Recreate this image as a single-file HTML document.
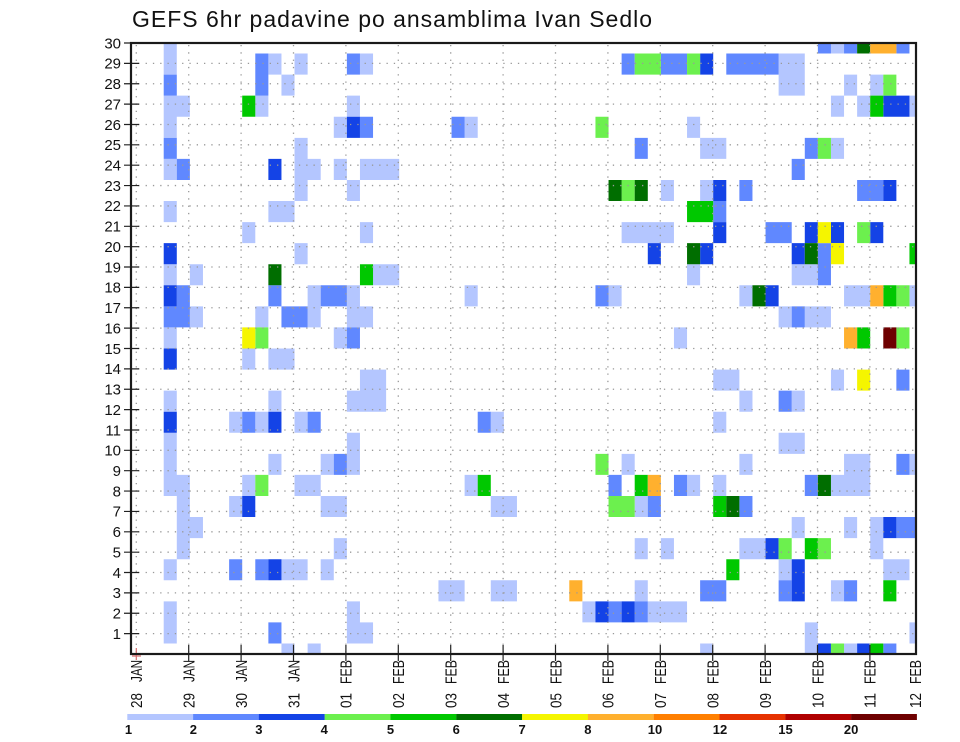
<!DOCTYPE html>
<html><head><meta charset="utf-8"><style>
html,body{margin:0;padding:0;background:#fff;}
svg{display:block;}
text{font-family:"Liberation Sans",Arial,sans-serif;fill:#111;}
</style></head><body>
<svg width="960" height="742" viewBox="0 0 960 742" xmlns="http://www.w3.org/2000/svg">
<defs><clipPath id="c"><rect x="131" y="43" width="785" height="611"/></clipPath></defs>
<rect width="960" height="742" fill="#fff"/>
<text x="132" y="27" font-size="23" textLength="520" lengthAdjust="spacing">GEFS 6hr padavine po ansamblima Ivan Sedlo</text>
<g clip-path="url(#c)"><g transform="translate(124.46 32.47) scale(13.0833 21.069)">
<path fill="#b4c6ff" d="M3 0h1v1h-1zM54 0h1v1h-1zM3 1h1v1h-1zM11 1h1v1h-1zM13 1h1v1h-1zM18 1h1v1h-1zM50 1h2v1h-2zM12 2h1v1h-1zM50 2h2v1h-2zM55 2h1v1h-1zM57 2h1v1h-1zM3 3h2v1h-2zM10 3h1v1h-1zM17 3h1v1h-1zM54 3h1v1h-1zM56 3h1v1h-1zM60 3h1v1h-1zM3 4h1v1h-1zM16 4h1v1h-1zM26 4h1v1h-1zM43 4h1v1h-1zM13 5h1v1h-1zM44 5h2v1h-2zM54 5h1v1h-1zM3 6h1v1h-1zM13 6h2v1h-2zM16 6h1v1h-1zM18 6h3v1h-3zM13 7h1v1h-1zM17 7h1v1h-1zM41 7h1v1h-1zM44 7h1v1h-1zM3 8h1v1h-1zM11 8h2v1h-2zM9 9h1v1h-1zM18 9h1v1h-1zM38 9h4v1h-4zM13 10h1v1h-1zM3 11h1v1h-1zM5 11h1v1h-1zM19 11h2v1h-2zM43 11h1v1h-1zM51 11h2v1h-2zM14 12h1v1h-1zM17 12h1v1h-1zM26 12h1v1h-1zM37 12h1v1h-1zM47 12h1v1h-1zM55 12h2v1h-2zM60 12h1v1h-1zM5 13h1v1h-1zM10 13h1v1h-1zM14 13h1v1h-1zM17 13h2v1h-2zM50 13h1v1h-1zM52 13h2v1h-2zM3 14h1v1h-1zM16 14h1v1h-1zM42 14h1v1h-1zM9 15h1v1h-1zM11 15h2v1h-2zM18 16h2v1h-2zM45 16h2v1h-2zM54 16h1v1h-1zM3 17h1v1h-1zM11 17h1v1h-1zM17 17h3v1h-3zM47 17h1v1h-1zM51 17h1v1h-1zM8 18h1v1h-1zM10 18h1v1h-1zM13 18h1v1h-1zM28 18h1v1h-1zM45 18h1v1h-1zM3 19h1v1h-1zM17 19h1v1h-1zM50 19h2v1h-2zM3 20h1v1h-1zM11 20h1v1h-1zM15 20h1v1h-1zM17 20h1v1h-1zM38 20h1v1h-1zM47 20h1v1h-1zM55 20h2v1h-2zM60 20h1v1h-1zM3 21h2v1h-2zM9 21h1v1h-1zM13 21h2v1h-2zM26 21h1v1h-1zM43 21h1v1h-1zM45 21h1v1h-1zM54 21h3v1h-3zM4 22h1v1h-1zM8 22h1v1h-1zM15 22h2v1h-2zM28 22h2v1h-2zM39 22h1v1h-1zM4 23h2v1h-2zM51 23h1v1h-1zM55 23h1v1h-1zM57 23h1v1h-1zM4 24h1v1h-1zM16 24h1v1h-1zM39 24h1v1h-1zM41 24h1v1h-1zM47 24h2v1h-2zM57 24h1v1h-1zM3 25h1v1h-1zM12 25h2v1h-2zM15 25h1v1h-1zM50 25h1v1h-1zM58 25h2v1h-2zM24 26h2v1h-2zM28 26h2v1h-2zM39 26h1v1h-1zM54 26h1v1h-1zM3 27h1v1h-1zM17 27h1v1h-1zM35 27h1v1h-1zM40 27h3v1h-3zM3 28h1v1h-1zM17 28h2v1h-2zM52 28h1v1h-1zM60 28h1v1h-1zM12 29h1v1h-1zM14 29h1v1h-1zM44 29h1v1h-1zM52 29h1v1h-1zM55 29h1v1h-1z"/>
<path fill="#6088ff" d="M53 0h1v1h-1zM55 0h1v1h-1zM59 0h1v1h-1zM10 1h1v1h-1zM17 1h1v1h-1zM38 1h1v1h-1zM41 1h2v1h-2zM46 1h4v1h-4zM3 2h1v1h-1zM10 2h1v1h-1zM18 4h1v1h-1zM25 4h1v1h-1zM3 5h1v1h-1zM39 5h1v1h-1zM52 5h1v1h-1zM4 6h1v1h-1zM51 6h1v1h-1zM47 7h1v1h-1zM56 7h2v1h-2zM45 8h1v1h-1zM49 9h2v1h-2zM53 10h1v1h-1zM53 11h1v1h-1zM4 12h1v1h-1zM11 12h1v1h-1zM15 12h2v1h-2zM36 12h1v1h-1zM3 13h2v1h-2zM12 13h2v1h-2zM51 13h1v1h-1zM17 14h1v1h-1zM59 16h1v1h-1zM50 17h1v1h-1zM9 18h1v1h-1zM14 18h1v1h-1zM27 18h1v1h-1zM16 20h1v1h-1zM59 20h1v1h-1zM37 21h1v1h-1zM42 21h1v1h-1zM52 21h1v1h-1zM40 22h1v1h-1zM47 22h1v1h-1zM59 23h2v1h-2zM8 25h1v1h-1zM10 25h1v1h-1zM44 26h2v1h-2zM50 26h1v1h-1zM55 26h1v1h-1zM37 27h1v1h-1zM39 27h1v1h-1zM11 28h1v1h-1zM58 29h1v1h-1z"/>
<path fill="#1443e6" d="M44 1h1v1h-1zM58 3h2v1h-2zM17 4h1v1h-1zM11 6h1v1h-1zM45 7h1v1h-1zM58 7h1v1h-1zM45 9h1v1h-1zM52 9h1v1h-1zM54 9h1v1h-1zM57 9h1v1h-1zM3 10h1v1h-1zM40 10h1v1h-1zM44 10h1v1h-1zM51 10h1v1h-1zM3 12h1v1h-1zM49 12h1v1h-1zM3 15h1v1h-1zM3 18h1v1h-1zM11 18h1v1h-1zM9 22h1v1h-1zM58 23h1v1h-1zM49 24h1v1h-1zM11 25h1v1h-1zM51 25h1v1h-1zM51 26h1v1h-1zM36 27h1v1h-1zM38 27h1v1h-1zM53 29h1v1h-1zM56 29h1v1h-1z"/>
<path fill="#6cf04e" d="M39 1h2v1h-2zM43 1h1v1h-1zM58 2h1v1h-1zM36 4h1v1h-1zM53 5h1v1h-1zM38 7h1v1h-1zM56 9h1v1h-1zM59 12h1v1h-1zM10 14h1v1h-1zM59 14h1v1h-1zM36 20h1v1h-1zM10 21h1v1h-1zM37 22h2v1h-2zM50 24h1v1h-1zM53 24h1v1h-1zM54 29h1v1h-1z"/>
<path fill="#00c800" d="M9 3h1v1h-1zM57 3h1v1h-1zM43 8h2v1h-2zM60 10h1v1h-1zM18 11h1v1h-1zM58 12h1v1h-1zM56 14h1v1h-1zM27 21h1v1h-1zM39 21h1v1h-1zM45 22h1v1h-1zM52 24h1v1h-1zM46 25h1v1h-1zM58 26h1v1h-1zM57 29h1v1h-1z"/>
<path fill="#006e00" d="M56 0h1v1h-1zM37 7h1v1h-1zM39 7h1v1h-1zM43 10h1v1h-1zM52 10h1v1h-1zM11 11h1v1h-1zM48 12h1v1h-1zM53 21h1v1h-1zM46 22h1v1h-1z"/>
<path fill="#f5f500" d="M53 9h1v1h-1zM54 10h1v1h-1zM9 14h1v1h-1zM56 16h1v1h-1z"/>
<path fill="#ffb02e" d="M57 0h2v1h-2zM57 12h1v1h-1zM55 14h1v1h-1zM40 21h1v1h-1zM34 26h1v1h-1z"/>
<path fill="#6e0000" d="M58 14h1v1h-1z"/>
</g></g>
<g stroke="#999" stroke-width="1.3" stroke-dasharray="1.3 6" fill="none">
<path d="M131 633.63H916M131 613.27H916M131 592.9H916M131 572.53H916M131 552.17H916M131 531.8H916M131 511.43H916M131 491.07H916M131 470.7H916M131 450.33H916M131 429.97H916M131 409.6H916M131 389.23H916M131 368.87H916M131 348.5H916M131 328.13H916M131 307.77H916M131 287.4H916M131 267.03H916M131 246.67H916M131 226.3H916M131 205.93H916M131 185.57H916M131 165.2H916M131 144.83H916M131 124.47H916M131 104.1H916M131 83.73H916M131 63.37H916"/>
<path d="M136.3 45V654M188.7 45V654M241.1 45V654M293.5 45V654M345.9 45V654M398.3 45V654M450.7 45V654M503.1 45V654M555.5 45V654M607.9 45V654M660.3 45V654M712.7 45V654M765.1 45V654M817.5 45V654M869.9 45V654"/>
</g>
<g stroke="#222" stroke-width="1.2">
<path d="M124 633.63H139M124 613.27H139M124 592.9H139M124 572.53H139M124 552.17H139M124 531.8H139M124 511.43H139M124 491.07H139M124 470.7H139M124 450.33H139M124 429.97H139M124 409.6H139M124 389.23H139M124 368.87H139M124 348.5H139M124 328.13H139M124 307.77H139M124 287.4H139M124 267.03H139M124 246.67H139M124 226.3H139M124 205.93H139M124 185.57H139M124 165.2H139M124 144.83H139M124 124.47H139M124 104.1H139M124 83.73H139M124 63.37H139M124 43H139"/>
<path d="M188.7 645V661M241.1 645V661M293.5 645V661M345.9 645V661M398.3 645V661M450.7 645V661M503.1 645V661M555.5 645V661M607.9 645V661M660.3 645V661M712.7 645V661M765.1 645V661M817.5 645V661M869.9 645V661"/>
</g>
<path d="M136.3 648V660M132 656H141" stroke="#d87070" stroke-width="1.2"/>
<rect x="131" y="43" width="785" height="611" fill="none" stroke="#1a1a1a" stroke-width="2.2"/>
<g font-size="15" text-anchor="end">
<text x="121" y="638.9">1</text><text x="121" y="618.6">2</text><text x="121" y="598.2">3</text><text x="121" y="577.8">4</text><text x="121" y="557.5">5</text><text x="121" y="537.1">6</text><text x="121" y="516.7">7</text><text x="121" y="496.4">8</text><text x="121" y="476">9</text><text x="121" y="455.6">10</text><text x="121" y="435.3">11</text><text x="121" y="414.9">12</text><text x="121" y="394.5">13</text><text x="121" y="374.2">14</text><text x="121" y="353.8">15</text><text x="121" y="333.4">16</text><text x="121" y="313.1">17</text><text x="121" y="292.7">18</text><text x="121" y="272.3">19</text><text x="121" y="252">20</text><text x="121" y="231.6">21</text><text x="121" y="211.2">22</text><text x="121" y="190.9">23</text><text x="121" y="170.5">24</text><text x="121" y="150.1">25</text><text x="121" y="129.8">26</text><text x="121" y="109.4">27</text><text x="121" y="89">28</text><text x="121" y="68.7">29</text><text x="121" y="48.3">30</text>
</g>
<g font-size="16">
<text transform="translate(142.1 682) rotate(-90)" textLength="22" lengthAdjust="spacingAndGlyphs">JAN</text><text transform="translate(142.1 708) rotate(-90)" textLength="15" lengthAdjust="spacingAndGlyphs">28</text>
<text transform="translate(194.5 682) rotate(-90)" textLength="22" lengthAdjust="spacingAndGlyphs">JAN</text><text transform="translate(194.5 708) rotate(-90)" textLength="15" lengthAdjust="spacingAndGlyphs">29</text>
<text transform="translate(246.9 682) rotate(-90)" textLength="22" lengthAdjust="spacingAndGlyphs">JAN</text><text transform="translate(246.9 708) rotate(-90)" textLength="15" lengthAdjust="spacingAndGlyphs">30</text>
<text transform="translate(299.3 682) rotate(-90)" textLength="22" lengthAdjust="spacingAndGlyphs">JAN</text><text transform="translate(299.3 708) rotate(-90)" textLength="15" lengthAdjust="spacingAndGlyphs">31</text>
<text transform="translate(351.7 684) rotate(-90)" textLength="24" lengthAdjust="spacingAndGlyphs">FEB</text><text transform="translate(351.7 708) rotate(-90)" textLength="15" lengthAdjust="spacingAndGlyphs">01</text>
<text transform="translate(404.1 684) rotate(-90)" textLength="24" lengthAdjust="spacingAndGlyphs">FEB</text><text transform="translate(404.1 708) rotate(-90)" textLength="15" lengthAdjust="spacingAndGlyphs">02</text>
<text transform="translate(456.5 684) rotate(-90)" textLength="24" lengthAdjust="spacingAndGlyphs">FEB</text><text transform="translate(456.5 708) rotate(-90)" textLength="15" lengthAdjust="spacingAndGlyphs">03</text>
<text transform="translate(508.9 684) rotate(-90)" textLength="24" lengthAdjust="spacingAndGlyphs">FEB</text><text transform="translate(508.9 708) rotate(-90)" textLength="15" lengthAdjust="spacingAndGlyphs">04</text>
<text transform="translate(561.3 684) rotate(-90)" textLength="24" lengthAdjust="spacingAndGlyphs">FEB</text><text transform="translate(561.3 708) rotate(-90)" textLength="15" lengthAdjust="spacingAndGlyphs">05</text>
<text transform="translate(613.7 684) rotate(-90)" textLength="24" lengthAdjust="spacingAndGlyphs">FEB</text><text transform="translate(613.7 708) rotate(-90)" textLength="15" lengthAdjust="spacingAndGlyphs">06</text>
<text transform="translate(666.1 684) rotate(-90)" textLength="24" lengthAdjust="spacingAndGlyphs">FEB</text><text transform="translate(666.1 708) rotate(-90)" textLength="15" lengthAdjust="spacingAndGlyphs">07</text>
<text transform="translate(718.5 684) rotate(-90)" textLength="24" lengthAdjust="spacingAndGlyphs">FEB</text><text transform="translate(718.5 708) rotate(-90)" textLength="15" lengthAdjust="spacingAndGlyphs">08</text>
<text transform="translate(770.9 684) rotate(-90)" textLength="24" lengthAdjust="spacingAndGlyphs">FEB</text><text transform="translate(770.9 708) rotate(-90)" textLength="15" lengthAdjust="spacingAndGlyphs">09</text>
<text transform="translate(823.3 684) rotate(-90)" textLength="24" lengthAdjust="spacingAndGlyphs">FEB</text><text transform="translate(823.3 708) rotate(-90)" textLength="15" lengthAdjust="spacingAndGlyphs">10</text>
<text transform="translate(875.7 684) rotate(-90)" textLength="24" lengthAdjust="spacingAndGlyphs">FEB</text><text transform="translate(875.7 708) rotate(-90)" textLength="15" lengthAdjust="spacingAndGlyphs">11</text>
<text transform="translate(920.8 684) rotate(-90)" textLength="24" lengthAdjust="spacingAndGlyphs">FEB</text><text transform="translate(920.8 708) rotate(-90)" textLength="15" lengthAdjust="spacingAndGlyphs">12</text>
</g>
<g>
<rect x="127.3" y="714" width="65.9" height="6" fill="#b4c6ff"/>
<rect x="193.1" y="714" width="65.9" height="6" fill="#6088ff"/>
<rect x="258.9" y="714" width="65.9" height="6" fill="#1443e6"/>
<rect x="324.7" y="714" width="65.9" height="6" fill="#6cf04e"/>
<rect x="390.5" y="714" width="65.9" height="6" fill="#00c800"/>
<rect x="456.3" y="714" width="65.9" height="6" fill="#006e00"/>
<rect x="522.1" y="714" width="65.9" height="6" fill="#f5f500"/>
<rect x="587.9" y="714" width="65.9" height="6" fill="#ffb02e"/>
<rect x="653.7" y="714" width="65.9" height="6" fill="#ff7f00"/>
<rect x="719.5" y="714" width="65.9" height="6" fill="#e63200"/>
<rect x="785.3" y="714" width="65.9" height="6" fill="#b00000"/>
<rect x="851.1" y="714" width="65.8" height="6" fill="#6e0000"/>
</g>
<g font-size="13" font-weight="bold" text-anchor="middle">
<text x="128.5" y="734">1</text><text x="193.4" y="734">2</text><text x="258.9" y="734">3</text><text x="324.2" y="734">4</text><text x="390.5" y="734">5</text><text x="456.3" y="734">6</text><text x="522.1" y="734">7</text><text x="587.9" y="734">8</text><text x="655" y="734">10</text><text x="720" y="734">12</text><text x="785.5" y="734">15</text><text x="851.1" y="734">20</text>
</g>
</svg>
</body></html>
